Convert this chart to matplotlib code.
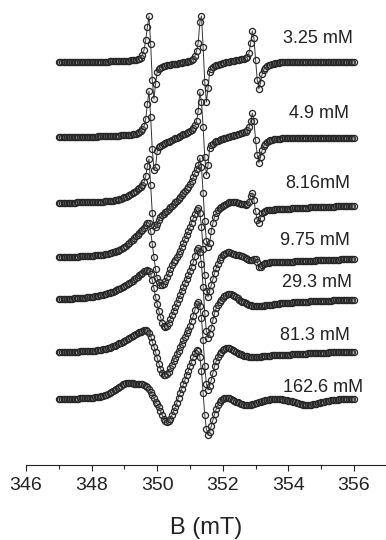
import numpy as np
import matplotlib.pyplot as plt
from matplotlib.ticker import MultipleLocator

plt.rcParams['font.family'] = ['Liberation Sans', 'DejaVu Sans']

# field axis of the spectrometer, 0.05 mT steps
field = np.round(np.arange(347.0, 356.0 + 0.025, 0.05), 2)

# derivative EPR signals (arb. units), one row = 0.5 mT
c325 = [
    0.0, 0.1, 0.0, -0.1, 0.0, 0.1, 0.0, 0.0, 0.1, 0.0,      # 347.0
    0.0, 0.1, 0.1, 0.0, 0.1, 0.2, 0.1, 0.2, 0.2, 0.2,       # 347.5
    0.3, 0.2, 0.3, 0.3, 0.4, 0.3, 0.4, 0.4, 0.5, 0.5,       # 348.0
    0.5, 0.6, 0.6, 0.7, 0.7, 0.8, 0.8, 0.9, 0.9, 1.0,       # 348.5
    1.1, 1.2, 1.3, 1.4, 1.6, 1.8, 2.0, 2.3, 2.7, 3.2,       # 349.0
    4.5, 7, 12, 22, 35, 46, 18, -18, -37, -22,              # 349.5
    -10, -7, -5.5, -4.8, -4.2, -3.7, -3.3, -3.0, -2.7, -2.4,  # 350.0
    -2.1, -1.8, -1.5, -1.2, -0.9, -0.6, -0.3, 0.0, 0.3, 0.6,  # 350.5
    1.2, 2.0, 3.2, 6, 11, 19, 40, 46, 15, -20,              # 351.0
    -40, -26, -10, -6.5, -5, -4, -3.2, -2.6, -2.0, -1.5,    # 351.5
    -1.0, -0.6, -0.2, 0.2, 0.5, 0.8, 1.1, 1.4, 1.7, 2.0,    # 352.0
    2.3, 2.6, 3.0, 3.5, 4.3, 5.5, 9, 19, 31, 24,            # 352.5
    2, -18, -27, -21, -12, -7.5, -5.5, -4.3, -3.3, -2.6,    # 353.0
    -2.0, -1.5, -1.1, -0.8, -0.5, -0.3, -0.2, -0.1, 0.0, 0.0,  # 353.5
    0.0, 0.1, 0.0, 0.0, -0.1, 0.0, 0.0, 0.1, 0.0, 0.0,      # 354.0
    0.0, 0.0, 0.1, 0.0, 0.0, 0.0, -0.1, 0.0, 0.0, 0.1,      # 354.5
    0.0, 0.0, 0.0, 0.1, 0.0, 0.0, 0.0, 0.0, 0.1, 0.0,       # 355.0
    0.0, 0.0, 0.0, 0.0, 0.1, 0.0, 0.0, 0.0, 0.0, 0.0,       # 355.5
    0.0,
]

c490 = [
    0.0, 0.1, 0.0, 0.0, 0.1, 0.0, 0.0, 0.1, 0.0, 0.1,
    0.1, 0.1, 0.2, 0.1, 0.2, 0.2, 0.3, 0.2, 0.3, 0.3,
    0.4, 0.4, 0.5, 0.5, 0.6, 0.6, 0.7, 0.7, 0.8, 0.8,
    0.9, 1.0, 1.0, 1.1, 1.2, 1.3, 1.4, 1.5, 1.6, 1.7,
    1.8, 2.0, 2.1, 2.3, 2.5, 2.8, 3.1, 3.5, 4.0, 4.8,
    6, 8, 11, 18, 33, 46, 20, -12, -33, -30,
    -14, -10, -8.5, -7.5, -6.6, -5.8, -5.2, -4.6, -3.8, -3.0,
    -2.2, -1.4, -0.6, 0.2, 1.0, 1.8, 2.6, 3.4, 4.2, 5.0,
    6.0, 7.5, 9.5, 12, 16, 26, 45, 35, 10, -20,
    -38, -28, -11, -8, -6.5, -5.3, -4.4, -3.6, -3.0, -2.4,
    -1.8, -1.3, -0.8, -0.3, 0.2, 0.7, 1.2, 1.7, 2.2, 2.7,
    3.2, 3.6, 4.0, 4.6, 5.5, 7, 10, 16, 24, 16,
    -3, -18, -26, -20, -13, -9, -6.5, -5.0, -4.0, -3.3,
    -2.8, -2.4, -2.1, -1.9, -1.7, -1.5, -1.4, -1.3, -1.2, -1.1,
    -1.0, -1.0, -0.9, -1.0, -0.9, -0.9, -1.0, -0.9, -0.8, -0.9,
    -0.9, -0.8, -0.9, -0.8, -0.8, -0.9, -0.8, -0.8, -0.8, -0.9,
    -0.8, -0.8, -0.8, -0.9, -0.8, -0.8, -0.8, -0.8, -0.8, -0.8,
    -0.8, -0.8, -0.9, -0.8, -0.8, -0.8, -0.8, -0.8, -0.8, -0.8,
    -0.8,
]

c816 = [
    0.0, 0.1, 0.1, 0.2, 0.2, 0.3, 0.3, 0.4, 0.4, 0.5,
    0.5, 0.6, 0.6, 0.7, 0.7, 0.8, 0.8, 0.9, 0.9, 1.0,
    1.0, 1.1, 1.1, 1.2, 1.3, 1.3, 1.4, 1.5, 1.6, 1.7,
    1.8, 2.0, 2.2, 2.5, 2.8, 3.1, 3.5, 3.9, 4.4, 5.0,
    5.6, 6.3, 7.0, 8.0, 9.0, 10.0, 11.2, 12.4, 13.6, 14.8,
    16.5, 18.5, 21, 27, 37, 44, 18, -10, -22, -24,
    -21, -17, -14, -12, -10.5, -9, -7.5, -6, -4.3, -2.7,
    -1.0, 0.7, 2.3, 4.0, 6.0, 8.0, 10.0, 12.0, 14.0, 16.5,
    19, 22, 26, 30, 34, 38, 45, 36, 10, -18,
    -38, -44, -40, -28, -20, -14, -10, -7, -5, -3.5,
    -2.5, -1.5, -0.5, 0.3, 1.0, 1.5, 1.5, 1.2, 0.8, 0.4,
    0.0, -0.5, -0.8, -1.2, -1.5, -1.0, 1.0, 7, 10, 3,
    -8, -17, -20, -15, -10, -8.5, -7.8, -7.4, -7.0, -6.8,
    -6.6, -6.5, -6.4, -6.3, -6.2, -6.1, -6.0, -5.9, -5.8, -5.7,
    -5.6, -5.5, -5.4, -5.3, -5.2, -5.1, -5.0, -4.9, -4.8, -4.7,
    -4.6, -4.5, -4.5, -4.4, -4.3, -4.2, -4.2, -4.1, -4.0, -4.0,
    -3.9, -3.8, -3.8, -3.7, -3.7, -3.6, -3.6, -3.5, -3.5, -3.4,
    -3.4, -3.3, -3.3, -3.2, -3.2, -3.1, -3.1, -3.0, -3.0, -3.0,
    -3.0,
]

c975 = [
    0.0, 0.0, 0.1, 0.1, 0.1, 0.2, 0.2, 0.3, 0.3, 0.4,
    0.4, 0.5, 0.5, 0.6, 0.7, 0.8, 0.9, 1.0, 1.1, 1.2,
    1.3, 1.4, 1.6, 1.7, 1.9, 2.1, 2.3, 2.5, 2.8, 3.1,
    3.4, 3.8, 4.2, 4.7, 5.2, 5.8, 6.5, 7.3, 8.2, 9.2,
    10.3, 11.5, 12.8, 14.2, 15.7, 17.3, 19, 20.7, 22.5, 24.3,
    26, 27.5, 29.5, 32, 34.5, 34, 26, 13, 0, -12,
    -21, -25, -27.5, -28, -27, -24, -20, -16, -12, -8,
    -5, -2.5, 0, 3, 6.5, 10.5, 14.5, 18.5, 22, 26,
    30, 34.5, 39, 43, 47, 49, 44, 30, 8, -18,
    -34, -40, -34, -28, -22, -16, -11, -7, -3, 0,
    2, 3.5, 4.5, 5, 5, 4.5, 3.5, 3, 2.5, 2.2,
    2, 1.5, 1, 0.3, -0.5, -1.5, -2.5, -3, -2.5, -1.5,
    -2, -5, -10, -10, -7.5, -6.5, -6, -5.7, -5.5, -5.4,
    -5.3, -5.2, -5.2, -5.1, -5.1, -5.0, -5.0, -4.9, -4.9, -4.8,
    -4.7, -4.6, -4.6, -4.5, -4.4, -4.3, -4.3, -4.2, -4.1, -4.0,
    -4.0, -3.9, -3.8, -3.7, -3.7, -3.6, -3.5, -3.4, -3.4, -3.3,
    -3.2, -3.1, -3.1, -3.0, -2.9, -2.9, -2.8, -2.7, -2.7, -2.6,
    -2.5, -2.5, -2.4, -2.3, -2.3, -2.2, -2.2, -2.1, -2.0, -2.0,
    -2.0,
]

c293 = [
    0.0, 0.1, 0.1, 0.2, 0.2, 0.3, 0.4, 0.4, 0.5, 0.6,
    0.7, 0.8, 0.9, 1.0, 1.1, 1.3, 1.4, 1.6, 1.8, 2.0,
    2.2, 2.4, 2.7, 3.0, 3.3, 3.6, 4.0, 4.4, 4.8, 5.2,
    5.7, 6.2, 6.8, 7.4, 8.1, 8.8, 9.6, 10.4, 11.2, 12.1,
    13.0, 14.0, 15.0, 16.0, 17.2, 18.4, 19.7, 21.0, 22.4, 23.8,
    25.2, 26.5, 27.7, 28.5, 29, 28, 25, 19, 11, 2,
    -5, -12, -18, -23.5, -27, -28, -26.5, -23.5, -20, -16,
    -12, -8, -4, 0, 4, 8, 12, 16, 20, 24,
    28, 32, 37, 43, 49, 51, 47, 35, 12, -14,
    -32, -39, -35, -29, -21, -14, -9, -5.5, -3, -0.5,
    1.5, 3, 4.2, 5, 5.2, 4.8, 4, 3, 2, 0.8,
    -0.5, -1.5, -2.5, -3.3, -4, -4.8, -5.5, -6, -6.5, -6.8,
    -7, -7, -7, -6.9, -6.8, -6.6, -6.4, -6.2, -6.0, -5.7,
    -5.5, -5.2, -5.0, -4.8, -4.6, -4.4, -4.2, -4.0, -3.9, -3.8,
    -3.7, -3.6, -3.5, -3.4, -3.3, -3.2, -3.1, -3.0, -2.9, -2.8,
    -2.7, -2.6, -2.5, -2.4, -2.3, -2.2, -2.1, -2.0, -1.9, -1.8,
    -1.8, -1.7, -1.7, -1.6, -1.6, -1.5, -1.5, -1.4, -1.4, -1.3,
    -1.3, -1.2, -1.2, -1.2, -1.1, -1.1, -1.1, -1.0, -1.0, -1.0,
    -1.0,
]

c813 = [
    0.0, 0.0, 0.1, 0.1, 0.1, 0.2, 0.2, 0.3, 0.3, 0.4,
    0.4, 0.5, 0.5, 0.6, 0.7, 0.7, 0.8, 0.9, 1.0, 1.1,
    1.2, 1.3, 1.4, 1.6, 1.8, 2.0, 2.3, 2.6, 3.0, 3.4,
    3.9, 4.4, 5.0, 5.6, 6.3, 7.0, 7.8, 8.6, 9.4, 10.2,
    11.0, 11.9, 12.8, 13.7, 14.7, 15.7, 16.7, 17.7, 18.7, 19.6,
    20.5, 21.3, 21.8, 22, 21.5, 19.5, 15.5, 10.5, 5.5, 0,
    -6, -11.5, -16.5, -20.5, -22.5, -23, -22, -19.5, -16, -12.5,
    -9, -5.5, -2, 1.5, 5, 8.5, 12, 15.5, 19, 22.5,
    26.5, 31, 36, 42, 48, 50, 46, 34, 12, -14,
    -32, -38, -34, -28, -21, -14, -9, -5, -2, 0.5,
    2, 3.2, 3.8, 4, 3.6, 2.8, 1.8, 0.8, -0.2, -1.1,
    -1.8, -2.4, -3, -3.5, -4, -4.4, -4.7, -4.9, -5, -5,
    -5, -4.9, -4.8, -4.6, -4.4, -4.2, -4.0, -3.8, -3.6, -3.5,
    -3.4, -3.3, -3.2, -3.1, -3.0, -3.0, -2.9, -2.8, -2.8, -2.7,
    -2.6, -2.5, -2.4, -2.3, -2.2, -2.1, -2.0, -1.9, -1.8, -1.7,
    -1.6, -1.5, -1.4, -1.3, -1.2, -1.1, -1.0, -0.9, -0.8, -0.7,
    -0.7, -0.6, -0.6, -0.5, -0.5, -0.4, -0.4, -0.3, -0.3, -0.3,
    -0.2, -0.2, -0.2, -0.1, -0.1, -0.1, 0.0, 0.0, 0.0, 0.0,
    0.0,
]

c1626 = [
    0.0, 0.0, 0.0, 0.1, 0.1, 0.1, 0.2, 0.2, 0.3, 0.3,
    0.4, 0.4, 0.5, 0.6, 0.6, 0.7, 0.8, 0.9, 1.0, 1.1,
    1.2, 1.4, 1.6, 1.8, 2.0, 2.3, 2.7, 3.1, 3.6, 4.2,
    4.9, 5.7, 6.6, 7.6, 8.7, 9.9, 11.1, 12.3, 13.5, 14.6,
    15.5, 16.2, 16.5, 16.5, 16.2, 15.8, 15.4, 15.2, 15.1, 15.1,
    15.0, 14.8, 14.3, 13.4, 12, 10, 7.5, 4.5, 1, -3,
    -5, -8, -12, -16, -19.5, -22, -23, -22, -19.5, -16,
    -12, -8, -3.5, 1.5, 6, 10.5, 15, 19.5, 24, 28.5,
    33, 37.5, 42, 46, 49, 48, 42, 28, 6, -16,
    -30, -36, -33, -27, -21, -15, -10, -6, -3, -1,
    0.2, 1, 1.2, 1.2, 0.8, 0.2, -0.6, -1.5, -2.5, -3.4,
    -4.2, -4.9, -5.4, -5.8, -6, -6, -5.8, -5.5, -5.1, -4.6,
    -4.1, -3.6, -3.1, -2.6, -2.1, -1.7, -1.3, -0.9, -0.6, -0.4,
    -0.2, -0.1, 0.0, 0.0, 0.0, -0.1, -0.3, -0.5, -0.8, -1.1,
    -1.5, -1.9, -2.4, -2.9, -3.4, -3.9, -4.4, -4.8, -5.2, -5.5,
    -5.8, -6.0, -6.0, -5.9, -5.7, -5.4, -5.0, -4.6, -4.2, -3.8,
    -3.4, -3.0, -2.6, -2.2, -1.9, -1.6, -1.3, -1.0, -0.8, -0.6,
    -0.5, -0.4, -0.3, -0.2, -0.1, 0.0, 0.0, 0.0, 0.0, 0.0,
    0.0,
]

spectra = [c325, c490, c816, c975, c293, c813, c1626]
labels = ['3.25 mM', '4.9 mM', '8.16mM', '9.75 mM', '29.3 mM', '81.3 mM', '162.6 mM']

# vertical stacking of the traces
offsets = [403, 328, 262, 208, 166, 113, 66]
label_x = [354.90, 354.93, 354.90, 354.80, 354.87, 354.81, 355.07]
label_y = [421.7, 346.7, 277, 220, 178, 125, 72.7]

fig = plt.figure(figsize=(3.86, 5.40), dpi=100)
ax = fig.add_axes([26 / 386, 75 / 540, 360.8 / 386, 465 / 540])

for sig, off in zip(spectra, offsets):
    assert len(sig) == len(field)
    ax.plot(field, np.array(sig) + off, '-o', color='#333333', lw=0.7,
            ms=4.4, mfc=(0.78, 0.78, 0.78, 0.15), mec='#262626', mew=0.9)

for lab, x, y in zip(labels, label_x, label_y):
    ax.text(x, y, lab, ha='center', va='baseline', fontsize=13, color='#222222')

ax.set_xlim(346, 357)
ax.set_ylim(0, 465)
ax.xaxis.set_major_locator(MultipleLocator(2))
ax.xaxis.set_minor_locator(MultipleLocator(1))
ax.set_xticks(np.arange(346, 357, 2))
ax.tick_params(axis='x', which='major', direction='out', length=4.5, width=0.8,
               labelsize=14, pad=4, colors='#222222')
ax.tick_params(axis='x', which='minor', direction='out', length=3, width=0.8,
               colors='#222222')
ax.set_yticks([])
for side in ['left', 'right', 'top']:
    ax.spines[side].set_visible(False)
ax.spines['bottom'].set_linewidth(0.8)
ax.spines['bottom'].set_color('#222222')
ax.set_xlabel('B (mT)', fontsize=17, labelpad=17, color='#222222')

fig.savefig('out.png', dpi=100)
